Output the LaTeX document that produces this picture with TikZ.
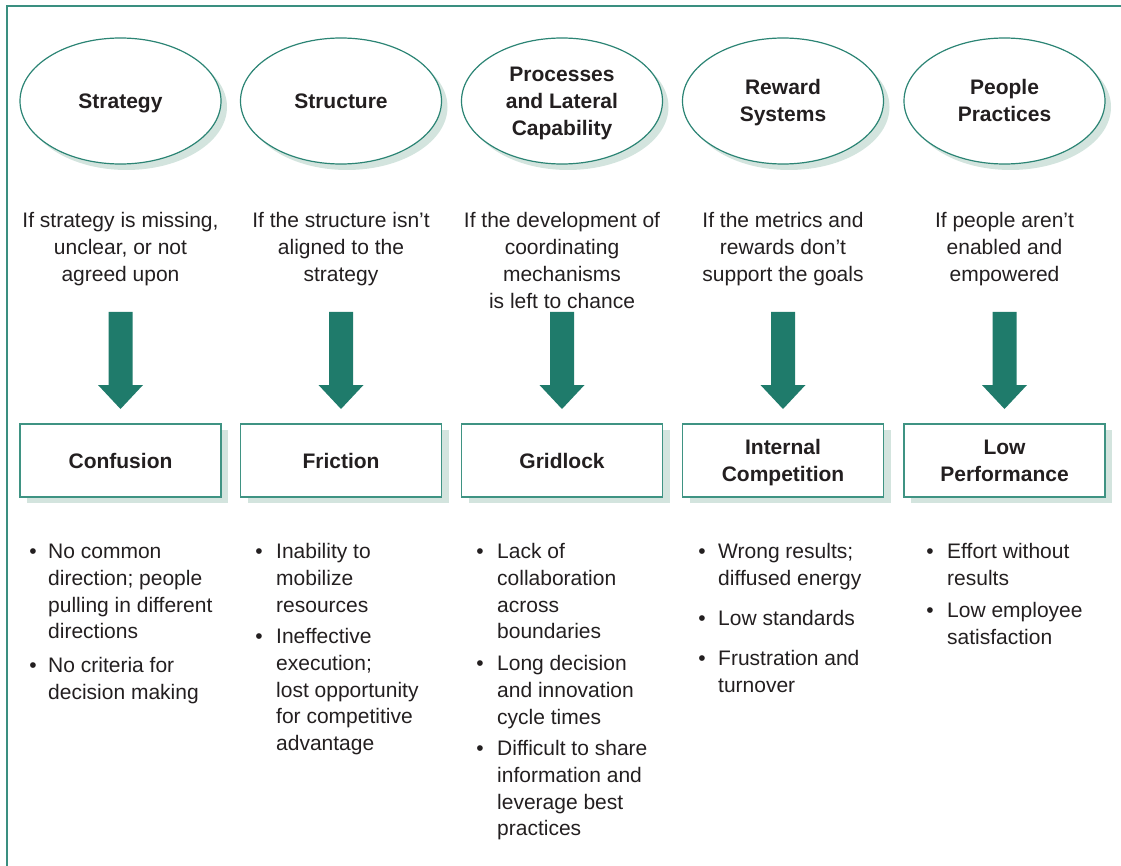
\documentclass[tikz,border=0pt]{standalone}
\usepackage{fontspec}
\setmainfont{Liberation Sans}
\usetikzlibrary{shapes.geometric,shadows}
\definecolor{tealfill}{HTML}{1F7B6B}
\definecolor{tealline}{HTML}{2B8474}
\definecolor{boxline}{HTML}{3F9383}
\definecolor{frameline}{HTML}{3A8F80}
\definecolor{shad}{HTML}{D3E4DE}
\definecolor{txt}{HTML}{231F20}
\newcommand\capstrut{\rule[-5.5pt]{0pt}{26pt}}
\begin{document}
\begin{tikzpicture}[x=1pt,y=-1pt,
  every node/.style={text=txt},
  cause/.style={ellipse, draw=tealline, line width=1.2pt, fill=white,
    minimum width=201pt, minimum height=126pt, inner sep=0pt, align=center,
    font=\fontsize{21}{27}\selectfont\bfseries,
    drop shadow={shadow xshift=6pt, shadow yshift=-6pt, fill=shad, opacity=1}},
  effect/.style={rectangle, draw=boxline, line width=1.2pt, fill=white,
    minimum width=201pt, minimum height=73pt, inner sep=0pt, align=center,
    font=\fontsize{21}{26.5}\selectfont\bfseries,
    drop shadow={shadow xshift=7pt, shadow yshift=-6pt, fill=shad, opacity=1}},
  cond/.style={anchor=north, inner sep=0pt, align=center,
    font=\fontsize{21}{27}\selectfont},
  bl/.style={anchor=north west, inner sep=0pt, align=left,
    font=\fontsize{21}{26.7}\selectfont},
  bd/.style={anchor=north, inner sep=0pt,
    font=\fontsize{21}{26.7}\selectfont},
  bigarrow/.style={fill=tealfill}
]
\useasboundingbox (0,0) rectangle (1121,866);
% frame
\draw[frameline, line width=2pt] (7,866) -- (7,6) -- (1121,6);

% causes
\node[cause] (c1) at (120.5,101) {\capstrut Strategy\capstrut};
\node[cause] (c2) at (341,101) {\capstrut Structure\capstrut};
\node[cause] (c3) at (562,101) {\capstrut Processes\\and Lateral\\\capstrut Capability};
\node[cause] (c4) at (783,101) {\capstrut Reward\\\capstrut Systems};
\node[cause] (c5) at (1004.5,101) {\capstrut People\\\capstrut Practices};

% conditions
\node[cond] (k1) at (120.5,208) {\strut If strategy is missing,\\unclear, or not\\agreed upon};
\node[cond] (k2) at (341,208) {\strut If the structure isn’t\\aligned to the\\strategy};
\node[cond] (k3) at (562,208) {\strut If the development of\\coordinating\\mechanisms\\is left to chance};
\node[cond] (k4) at (783,208) {\strut If the metrics and\\rewards don’t\\support the goals};
\node[cond] (k5) at (1004.5,208) {\strut If people aren’t\\enabled and\\empowered};

% arrows
\foreach \cx in {120.5,341,562,783,1004.5}{
  \fill[bigarrow] (\cx-12,312) -- (\cx+12,312) -- (\cx+12,385) -- (\cx+22.5,385)
    -- (\cx,409) -- (\cx-22.5,385) -- (\cx-12,385) -- cycle;
}

% effects
\node[effect] (e1) at (120.5,460.5) {\capstrut Confusion\capstrut};
\node[effect] (e2) at (341,460.5) {\capstrut Friction\capstrut};
\node[effect] (e3) at (562,460.5) {\capstrut Gridlock\capstrut};
\node[effect] (e4) at (783,460.5) {\capstrut Internal\\\capstrut Competition};
\node[effect] (e5) at (1004.5,460.5) {\capstrut Low\\\capstrut Performance};

% column 1
\node[bd] (d11) at (33,540) {\strut\textbullet};
\node[bl] (t11) at (48,540) {\strut No common\\direction; people\\pulling in different\\directions};
\node[bd] (d12) at (33,654) {\strut\textbullet};
\node[bl] (t12) at (48,654) {\strut No criteria for\\decision making};

% column 2
\node[bd] (d21) at (259,540) {\strut\textbullet};
\node[bl] (t21) at (276,540) {\strut Inability to\\mobilize\\resources};
\node[bd] (d22) at (259,625) {\strut\textbullet};
\node[bl] (t22) at (276,625) {\strut Ineffective\\execution;\\lost opportunity\\for competitive\\advantage};

% column 3
\node[bd] (d31) at (480,540) {\strut\textbullet};
\node[bl] (t31) at (497,540) {\strut Lack of\\collaboration\\across\\boundaries};
\node[bd] (d32) at (480,652) {\strut\textbullet};
\node[bl] (t32) at (497,652) {\strut Long decision\\and innovation\\cycle times};
\node[bd] (d33) at (480,737) {\strut\textbullet};
\node[bl] (t33) at (497,737) {\strut Difficult to share\\information and\\leverage best\\practices};

% column 4
\node[bd] (d41) at (702,540) {\strut\textbullet};
\node[bl] (t41) at (718,540) {\strut Wrong results;\\diffused energy};
\node[bd] (d42) at (702,607) {\strut\textbullet};
\node[bl] (t42) at (718,607) {\strut Low standards};
\node[bd] (d43) at (702,647) {\strut\textbullet};
\node[bl] (t43) at (718,647) {\strut Frustration and\\turnover};

% column 5
\node[bd] (d51) at (930,540) {\strut\textbullet};
\node[bl] (t51) at (947,540) {\strut Effort without\\results};
\node[bd] (d52) at (930,599) {\strut\textbullet};
\node[bl] (t52) at (947,599) {\strut Low employee\\satisfaction};
\end{tikzpicture}
\end{document}
